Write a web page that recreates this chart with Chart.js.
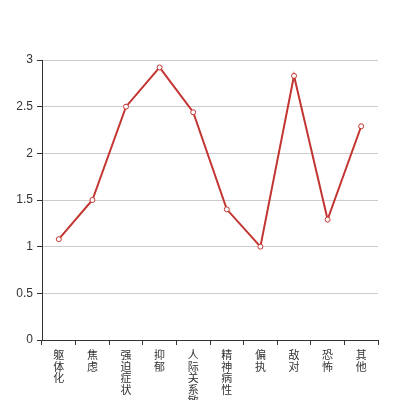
<!DOCTYPE html>
<html>
<head>
<meta charset="utf-8">
<script src="https://cdn.jsdelivr.net/npm/chart.js@4"></script>
<style>
	html, body { margin: 0; padding: 0; background: #fff; }
	#wrap { width: 420px; height: 400px; }
</style>
</head>
<body>
<div id="wrap"><canvas id="bieuDo" width="420" height="400"></canvas></div>
<script>
	// categories and values
	var categories = ['躯体化', '焦虑', '强迫症状', '抑郁', '人际关系敏感', '精神病性', '偏执', '敌对', '恐怖', '其他']
	var scores = [1.08, 1.5, 2.5, 2.92, 2.44, 1.4, 1.0, 2.83, 1.29, 2.29]
	var yTicks = [0, 0.5, 1, 1.5, 2, 2.5, 3]

	// vertical labels: one character per line
	var labels = categories.map(item => item.split(''))

	var ctx = document.getElementById('bieuDo').getContext('2d')
	var chart = new Chart(ctx, {
		type: 'line',
		data: {
			labels: labels,
			datasets: [{
				data: scores,
				borderColor: '#c23531',
				borderWidth: 2,
				backgroundColor: '#fff',
				pointBackgroundColor: '#fff',
				pointBorderColor: '#c23531',
				pointBorderWidth: 1,
				pointRadius: 2.5,
				tension: 0,
				fill: false
			}]
		},
		options: {
			responsive: false,
			animation: false,
			layout: { padding: { left: 0, top: 60, right: 42, bottom: 0 } },
			plugins: { legend: { display: false }, tooltip: { enabled: false } },
			scales: {
				x: {
					offset: true,
					grid: { offset: true, drawOnChartArea: false, tickLength: 5, tickColor: '#333' },
					border: { color: '#333', width: 1 },
					ticks: {
						autoSkip: false,
						maxRotation: 0,
						padding: 4,
						color: '#333',
						font: { family: '"Noto Sans CJK SC"', size: 11, lineHeight: 1.05 }
					},
					afterFit: function(scale) { scale.height = 60 }
				},
				y: {
					min: 0,
					max: 3,
					afterBuildTicks: function(scale) { scale.ticks = yTicks.map(v => ({ value: v })) },
					grid: { color: '#ccc', tickLength: 5, tickColor: '#333' },
					border: { color: '#333', width: 1 },
					ticks: {
						padding: 4,
						color: '#333',
						font: { family: '"Liberation Sans", Arial, sans-serif', size: 12 },
						callback: function(value) { return String(value) }
					},
					afterFit: function(scale) { scale.width = 42 }
				}
			}
		}
	})
</script>
</body>
</html>
